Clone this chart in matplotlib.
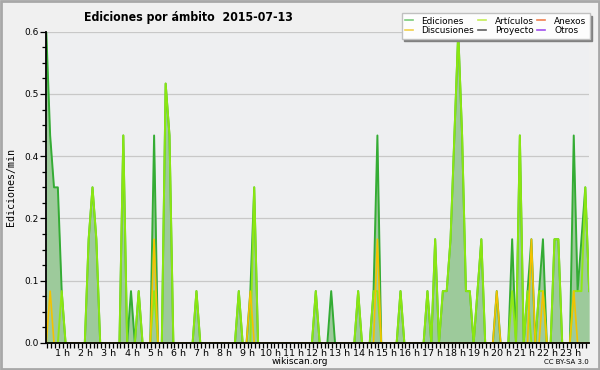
import numpy as np
import matplotlib
matplotlib.use("Agg")
import matplotlib.pyplot as plt
from matplotlib.lines import Line2D
from matplotlib.patches import Rectangle
from matplotlib.ticker import FixedLocator, MultipleLocator
from matplotlib import font_manager as fm

# ---- data: edits per minute, 10-minute bins (142 bins) ----
ediciones = [
    0.6, 0.4, 0.3, 0.3, 0.1, 0, 0, 0, 0, 0, 0, 0.2,
    0.3, 0.2, 0, 0, 0, 0, 0, 0, 0.4, 0, 0.1, 0,
    0.1, 0, 0, 0, 0.4, 0, 0, 0.5, 0.4, 0, 0, 0,
    0, 0, 0, 0.1, 0, 0, 0, 0, 0, 0, 0, 0,
    0, 0, 0.1, 0, 0, 0.1, 0.3, 0, 0, 0, 0, 0,
    0, 0, 0, 0, 0, 0, 0, 0, 0, 0, 0.1, 0,
    0, 0, 0.1, 0, 0, 0, 0, 0, 0, 0.1, 0, 0,
    0, 0.1, 0.4, 0, 0, 0, 0, 0, 0.1, 0, 0, 0,
    0, 0, 0, 0.1, 0, 0.2, 0, 0.1, 0.1, 0.2, 0.4, 0.6,
    0.4, 0.1, 0.1, 0, 0.1, 0.2, 0, 0, 0, 0.1, 0, 0,
    0, 0.2, 0, 0.4, 0, 0.1, 0.2, 0, 0.1, 0.2, 0, 0,
    0.2, 0.2, 0, 0, 0, 0.4, 0.1, 0.2, 0.3, 0.1,
]
articulos = [
    0, 0, 0, 0, 0.1, 0, 0, 0, 0, 0, 0, 0.2,
    0.3, 0.2, 0, 0, 0, 0, 0, 0, 0.4, 0, 0, 0,
    0.1, 0, 0, 0, 0.1, 0, 0, 0.5, 0.4, 0, 0, 0,
    0, 0, 0, 0.1, 0, 0, 0, 0, 0, 0, 0, 0,
    0, 0, 0.1, 0, 0, 0, 0.3, 0, 0, 0, 0, 0,
    0, 0, 0, 0, 0, 0, 0, 0, 0, 0, 0.1, 0,
    0, 0, 0, 0, 0, 0, 0, 0, 0, 0.1, 0, 0,
    0, 0.1, 0.1, 0, 0, 0, 0, 0, 0.1, 0, 0, 0,
    0, 0, 0, 0.1, 0, 0.2, 0, 0.1, 0.1, 0.2, 0.4, 0.6,
    0.4, 0.1, 0.1, 0, 0.1, 0.2, 0, 0, 0, 0, 0, 0,
    0, 0.1, 0, 0.4, 0, 0.1, 0, 0, 0.1, 0.1, 0, 0,
    0.2, 0.2, 0, 0, 0, 0.1, 0.1, 0.1, 0.3, 0.1,
]
discusiones = [
    0, 0.1, 0, 0, 0, 0, 0, 0, 0, 0, 0, 0,
    0, 0, 0, 0, 0, 0, 0, 0, 0, 0, 0, 0,
    0, 0, 0, 0, 0.2, 0, 0, 0, 0, 0, 0, 0,
    0, 0, 0, 0, 0, 0, 0, 0, 0, 0, 0, 0,
    0, 0, 0, 0, 0, 0.1, 0, 0, 0, 0, 0, 0,
    0, 0, 0, 0, 0, 0, 0, 0, 0, 0, 0, 0,
    0, 0, 0, 0, 0, 0, 0, 0, 0, 0, 0, 0,
    0, 0, 0.2, 0, 0, 0, 0, 0, 0, 0, 0, 0,
    0, 0, 0, 0, 0, 0, 0, 0, 0, 0, 0, 0,
    0, 0, 0, 0, 0, 0, 0, 0, 0, 0.1, 0, 0,
    0, 0, 0, 0, 0, 0, 0.2, 0, 0, 0.1, 0, 0,
    0, 0, 0, 0, 0, 0.1, 0, 0, 0, 0,
]
series_names = ["Ediciones", "Discusiones", "Artículos", "Proyecto", "Anexos", "Otros"]
legend_colors = ["#7ccc7c", "#f2d04c", "#c4ee58", "#606060", "#f08050", "#a050ee"]
hour_ticks = list(range(1, 24))
hour_labels = [f"{h} h" for h in hour_ticks]
y_ticks = [0.0, 0.12, 0.24, 0.36, 0.48, 0.60]
y_tick_labels = ["0.0", "0.1", "0.2", "0.4", "0.5", "0.6"]
title = "Ediciones por ámbito  2015-07-13"

start_hour = 0.29
times = start_hour + np.arange(len(ediciones)) / 6.0

fig = plt.figure(figsize=(6, 3.7), dpi=100, facecolor="#f0f0f0")
ax = fig.add_axes([46 / 600, 1 - 343 / 370, 543 / 600, (343 - 31.7) / 370])
ax.set_facecolor("#eeeff1")

ax.fill_between(times, 0, ediciones, color="#9dca9b", lw=0, zorder=1.5)
ax.plot(times, ediciones, color="#34ac34", lw=1.4, zorder=2)
ax.plot(times, articulos, color="#90ea10", lw=1.4, alpha=0.95, zorder=2.1)
ax.plot(times, discusiones, color="#f4c200", lw=1.2, zorder=2.2)

ax.set_xlim(start_hour - 0.013, start_hour + (589 - 46.3) / 23.1)
ax.set_ylim(0, 0.6)

ax.yaxis.set_major_locator(FixedLocator(y_ticks))
ax.set_yticklabels(y_tick_labels)
ax.yaxis.set_minor_locator(MultipleLocator(0.03))
ax.xaxis.set_major_locator(FixedLocator(hour_ticks))
ax.set_xticklabels(hour_labels)
ax.xaxis.set_minor_locator(MultipleLocator(1 / 6))

ax.grid(axis="y", which="major", color="#c8c8c8", lw=0.9, zorder=0.5)
ax.set_axisbelow(True)
for s in ["top", "right"]:
    ax.spines[s].set_visible(False)
for s in ["bottom", "left"]:
    ax.spines[s].set_color("black")
    ax.spines[s].set_linewidth(1.3)
    ax.spines[s].set_zorder(3)

ax.tick_params(axis="both", which="both", direction="out", color="black", width=0.9)
ax.tick_params(axis="y", which="major", length=4, labelsize=6.5, pad=1.5)
ax.tick_params(axis="y", which="minor", length=3)
ax.tick_params(axis="x", which="major", length=3.5, labelsize=6.8, pad=0.5)
ax.tick_params(axis="x", which="minor", length=3.5)

ax.set_ylabel("Ediciones/min", family="DejaVu Sans Mono", fontsize=7.2, labelpad=6)

tfp = fm.FontProperties(family="DejaVu Sans", weight="bold", stretch="condensed", size=8.8)
fig.text(188 / 600, 1 - 18 / 370, title, ha="center", va="center", fontproperties=tfp)
fig.text(300 / 600, 1 - 361 / 370, "wikiscan.org", ha="center", va="center", fontsize=6.5)
fig.text(589 / 600, 1 - 362 / 370, "CC BY-SA 3.0", ha="right", va="center", fontsize=5)

handles = [Line2D([0], [0], color=c, lw=1.2) for c in legend_colors]
leg = fig.legend(handles, series_names, ncol=3, loc="upper right",
                 bbox_to_anchor=(594 / 600, 1 - 9 / 370), bbox_transform=fig.transFigure,
                 fontsize=6.4, frameon=True, fancybox=False, framealpha=1,
                 facecolor="#fdfdfd", edgecolor="#c0c0c0",
                 shadow={"color": "#808080", "alpha": 1},
                 handlelength=0.9, handletextpad=1.0, columnspacing=0.4,
                 labelspacing=0.1, borderpad=0.35)
leg.set_zorder(10)

fig.add_artist(Rectangle((0.0015, 0.0025), 0.997, 0.995, transform=fig.transFigure,
                         fill=False, edgecolor="#a8a8a8", lw=2))

fig.savefig("out.png", dpi=100, facecolor=fig.get_facecolor())
